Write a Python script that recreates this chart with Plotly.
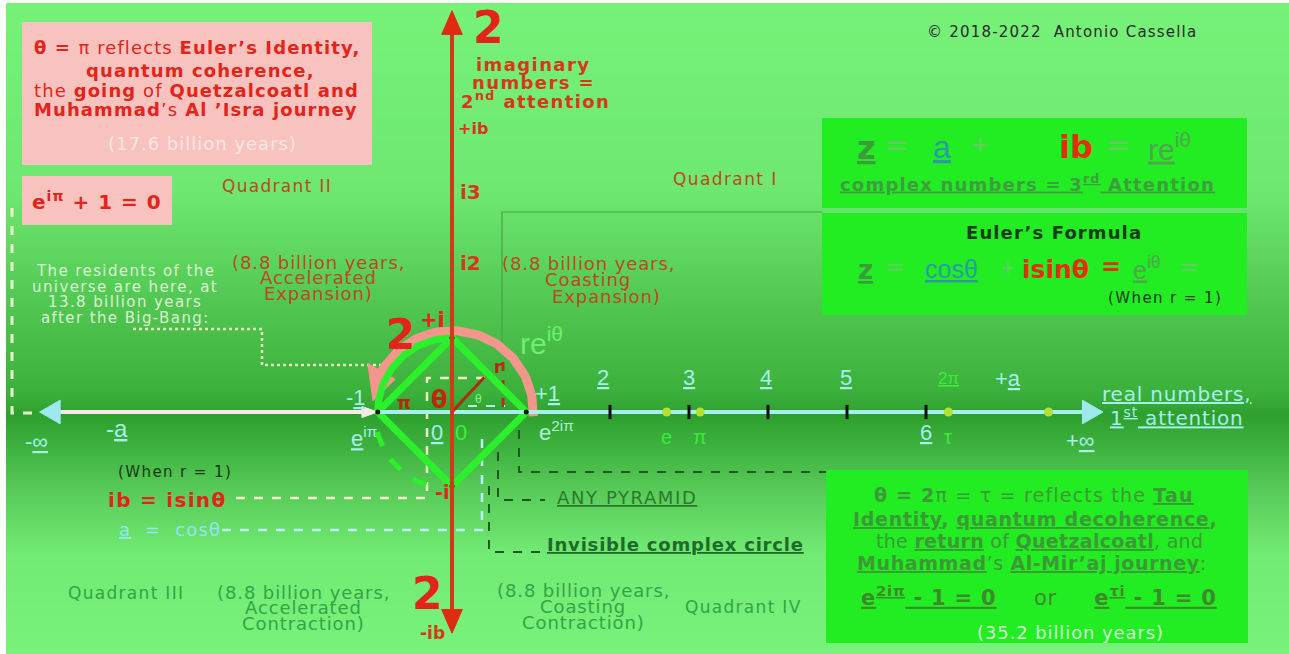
import numpy as np
import plotly.graph_objects as go

W, H = 1289, 654
U = 79.0            # pixels per unit of the complex plane
OX, OY = 452.0, 412.0   # pixel position of the origin
ML_, MT_ = 6, 3     # white page border of the reference

# ---------------- data ----------------
real_ticks = [2, 3, 4, 5, 6]
upper_tick_labels = ["2", "3", "4", "5"]
upper_tick_pos = [1.91, 3.0, 3.98, 4.99]
special_names = ["e", "π", "τ", ""]
special_values = [2.718, 3.1416, 6.2832, 7.55]
real_axis_ends = [-5.22, 8.24]
imag_axis_ends = [-2.8, 5.08]
imag_labels = ["i2", "i3"]
imag_label_pos = [1.88, 2.78]
unit_radius = 0.94
motion_radius = 1.03
motion_arc_deg = [-3, 150]
radius_vector_angle = 47.0
radius_vector_len = 0.6

# background gradient stops (pixel row -> colour)
bg_rows = [0, 190, 300, 395, 414, 440, 495, 555, 654]
bg_cols = ["#77F279", "#6EE870", "#52C852", "#3AAF3A", "#2E9F2E",
           "#3AAE3A", "#5ACD5A", "#72EB74", "#78F27A"]

REG = "Liberation Sans, Arial, sans-serif"
WIDE = "DejaVu Sans, Verdana, sans-serif"
BOLD = "DejaVu Sans, Verdana, sans-serif"
RED = "#E3241A"
AXRED = "#CF3A18"
BROWN = "#BD4A1C"
CYAN = "#A6EFEC"
GRN_TXT = "#34A444"
BOXG = "#22EC22"
PINK = "#F8C3BF"


def P(x, y):
    """pixel -> plane coordinates"""
    return (x - OX) / U, (OY - y) / U


xr = [P(ML_, 0)[0], P(W, 0)[0]]
yr = [P(0, H)[1], P(0, MT_)[1]]

fig = go.Figure()

# background gradient
rows = np.arange(-10, H + 11, 4)
zc = np.clip(rows, 0, H) / H
ys = (OY - rows) / U
fig.add_trace(go.Heatmap(
    x=[xr[0] - 0.5, xr[1] + 0.5], y=ys, z=np.column_stack([zc, zc]),
    colorscale=[[r / H, c] for r, c in zip(bg_rows, bg_cols)],
    zmin=0, zmax=1, zsmooth="best", showscale=False, hoverinfo="skip"))

shapes = []
ann = []


def rect(x0, y0, x1, y1, color):
    a, b = P(x0, y0)
    c, d = P(x1, y1)
    shapes.append(dict(type="rect", x0=a, y0=b, x1=c, y1=d, xref="x", yref="y",
                       fillcolor=color, line=dict(width=0), layer="above"))


def poly(pts, color, width, dash="solid"):
    xs, ys_ = zip(*[P(*p) for p in pts])
    fig.add_trace(go.Scatter(x=xs, y=ys_, mode="lines", hoverinfo="skip",
                             line=dict(color=color, width=width, dash=dash),
                             showlegend=False))


def T(x, y, text, size, color, fam=WIDE, bold=False, ls=0, xa="center", ya="middle"):
    X, Y = P(x, y)
    if bold:
        text = "<b>" + text + "</b>"
    if ls:
        text = "<span style='letter-spacing:%.2fpx'>%s</span>" % (ls, text)
    ann.append(dict(x=X, y=Y, xref="x", yref="y", text=text, showarrow=False,
                    font=dict(size=size, color=color, family=fam),
                    xanchor=xa, yanchor=ya))


def ML(x, y, lines, lh, size, color, fam=WIDE, bold=False, ls=0):
    for i, s in enumerate(lines):
        if isinstance(s, tuple):
            dx, s = s
        else:
            dx = 0
        T(x + dx, y + i * lh, s, size, color, fam, bold, ls)


# ------------- boxes -------------
rect(22, 22, 372, 165, PINK)
rect(22, 176, 172, 225, PINK)
rect(822, 118, 1247, 208, BOXG)
rect(822, 213, 1247, 315, BOXG)
rect(826, 470, 1248, 643, BOXG)

# ------------- guide lines -------------
poly([(12, 208), (12, 413), (40, 413)], "#EEF0C8", 3, "dash")
poly([(133, 329), (262, 329), (262, 365), (383, 365)], "#E8ECC0", 2.5, "dot")
poly([(502, 345), (502, 212), (822, 212)], "#46A246", 1.2)
poly([(519, 430), (519, 472), (826, 472)], "#1E5A1E", 2, "dash")
poly([(498, 452), (498, 500), (545, 500)], "#1E5A1E", 2, "dash")
poly([(489, 486), (489, 552), (541, 552)], "#1E5A1E", 2, "dash")
poly([(485, 378), (427, 378), (427, 498), (227, 498)], "#F2F2C8", 2.5, "dash")
poly([(222, 530), (482, 530), (482, 432)], "#B8F4F4", 2.5, "dash")
poly([(503, 362), (503, 409)], "#B83010", 3, "dash")
poly([(468, 406), (505, 406)], "#B8F4F4", 2, "dash")

# ------------- motion arc (pink) -------------
th = np.radians(np.linspace(motion_arc_deg[0], motion_arc_deg[1], 120))
fig.add_trace(go.Scatter(x=motion_radius * np.cos(th), y=motion_radius * np.sin(th),
                         mode="lines", line=dict(color="#F3968C", width=9),
                         hoverinfo="skip", showlegend=False))
tb = np.radians(motion_arc_deg[1])
tt = np.radians(motion_arc_deg[1] + 22)
base_in = (motion_radius - 0.2) * np.array([np.cos(tb), np.sin(tb)])
base_out = (motion_radius + 0.2) * np.array([np.cos(tb), np.sin(tb)])
tip = (motion_radius - 0.02) * np.array([np.cos(tt), np.sin(tt)])
fig.add_trace(go.Scatter(x=[base_in[0], tip[0], base_out[0], base_in[0]],
                         y=[base_in[1], tip[1], base_out[1], base_in[1]],
                         fill="toself", fillcolor="#F3968C", mode="lines",
                         line=dict(color="#F3968C", width=1), hoverinfo="skip",
                         showlegend=False))

# ------------- green complex circle / pyramid -------------
R = unit_radius
t2 = np.radians(np.linspace(90, 180, 60))
fig.add_trace(go.Scatter(x=R * np.cos(t2), y=R * np.sin(t2), mode="lines",
                         line=dict(color="#2DF02D", width=7), hoverinfo="skip",
                         showlegend=False))
t3 = np.radians(np.linspace(195, 255, 40))
fig.add_trace(go.Scatter(x=(R + 0.04) * np.cos(t3), y=(R + 0.04) * np.sin(t3), mode="lines",
                         line=dict(color="#2DF02D", width=5, dash="dash"), hoverinfo="skip",
                         showlegend=False))
fig.add_trace(go.Scatter(x=[-R, 0, R, 0, -R], y=[0, R, 0, -R, 0], mode="lines",
                         line=dict(color="#2DF02D", width=7), hoverinfo="skip",
                         showlegend=False))

# ------------- real axis -------------
L, Rr = real_axis_ends
fig.add_trace(go.Scatter(x=[L + 0.2, -R - 0.06], y=[0, 0], mode="lines",
                         line=dict(color="#F2ECE4", width=4), hoverinfo="skip", showlegend=False))
fig.add_trace(go.Scatter(x=[-R - 0.2, -R, -R - 0.2, -R - 0.2], y=[0.07, 0, -0.07, 0.07],
                         fill="toself", fillcolor="#F2ECE4", mode="lines",
                         line=dict(color="#F2ECE4", width=1), hoverinfo="skip", showlegend=False))
fig.add_trace(go.Scatter(x=[-R, Rr - 0.2], y=[0, 0], mode="lines",
                         line=dict(color=CYAN, width=4), hoverinfo="skip", showlegend=False))
for tipx, d in [(L, 1), (Rr, -1)]:
    fig.add_trace(go.Scatter(x=[tipx, tipx + d * 0.26, tipx + d * 0.26, tipx],
                             y=[0, 0.15, -0.15, 0], fill="toself", fillcolor="#9FE8F0",
                             mode="lines", line=dict(color="#9FE8F0", width=1),
                             hoverinfo="skip", showlegend=False))
# ticks
for t in real_ticks:
    fig.add_trace(go.Scatter(x=[t, t], y=[-0.09, 0.09], mode="lines",
                             line=dict(color="#101010", width=3), hoverinfo="skip", showlegend=False))
fig.add_trace(go.Scatter(x=special_values, y=[0] * len(special_values), mode="markers",
                         marker=dict(color="#B4E232", size=9), hoverinfo="skip", showlegend=False))
fig.add_trace(go.Scatter(x=[-R, 0, R, 0], y=[0, R, 0, -R], mode="markers",
                         marker=dict(color="#0A200A", size=5), hoverinfo="skip", showlegend=False))

# radius vector
va = np.radians(radius_vector_angle)
fig.add_trace(go.Scatter(x=[0, radius_vector_len * np.cos(va)], y=[0, radius_vector_len * np.sin(va)],
                         mode="lines", line=dict(color="#B02A10", width=3),
                         hoverinfo="skip", showlegend=False))

# ------------- imaginary axis -------------
B, Tp = imag_axis_ends
fig.add_trace(go.Scatter(x=[0, 0], y=[B + 0.25, Tp - 0.25], mode="lines",
                         line=dict(color=AXRED, width=4), hoverinfo="skip", showlegend=False))
for tipy, d in [(Tp, -1), (B, 1)]:
    fig.add_trace(go.Scatter(x=[0, 0.13, -0.13, 0], y=[tipy, tipy + d * 0.3, tipy + d * 0.3, tipy],
                             fill="toself", fillcolor="#E02A12", mode="lines",
                             line=dict(color="#E02A12", width=1), hoverinfo="skip", showlegend=False))

# ------------- texts -------------
# top-left pink box
T(197, 47, "<b>θ = </b>π reflects <b>Euler’s Identity,</b>", 18, RED, BOLD, ls=1.1)
T(200, 70, "quantum coherence,", 18, RED, BOLD, True, ls=1.1)
T(196, 90, "the <b>going</b> of <b>Quetzalcoatl and</b>", 18, RED, BOLD, ls=1.1)
T(196, 109, "<b>Muhammad</b>’s <b>Al ’Isra journey</b>", 18, RED, BOLD, ls=1.1)
T(202, 143, "(17.6 billion years)", 18, "#FBE6E4", WIDE, ls=1.0)
T(97, 201, "e<sup>iπ</sup> + 1 = 0", 20, RED, BOLD, True, ls=1.0)

T(277, 186, "Quadrant II", 17, BROWN, ls=1.3)
T(725, 179, "Quadrant I", 17, BROWN, ls=1.4)
T(126, 593, "Quadrant III", 17, GRN_TXT, ls=1.3)
T(743, 607, "Quadrant IV", 17, GRN_TXT, ls=1.3)

ML(318, 262, ["(8.8 billion years,", "Accelerated", "Expansion)"], 15.5, 18, BROWN, ls=0.9)
ML(588, 263, [(0, "(8.8 billion years,"), (0, "Coasting"), (18, "Expansion)")], 16.5, 18, BROWN, ls=0.9)
ML(303, 592, ["(8.8 billion years,", "Accelerated", "Contraction)"], 15.5, 18, GRN_TXT, ls=0.9)
ML(583, 590, ["(8.8 billion years,", "Coasting", "Contraction)"], 16, 18, GRN_TXT, ls=0.9)
ML(125, 271, ["The residents of the", "universe are here, at", "13.8 billion years",
              "after the Big-Bang:"], 15.5, 15, "#D9F2D2", ls=1.4)

# imaginary axis texts
T(488, 27, "2", 44, RED, BOLD, True)
ML(533, 64, ["imaginary", "numbers =", (2, "2<sup>nd</sup> attention")], 18, 18, "#D8381A", BOLD, True, ls=1.4)
T(473, 128, "+ib", 16, "#D8381A", BOLD, True)
for lab, pos in zip(imag_labels, imag_label_pos):
    X = P(470, 0)[0]
    ann.append(dict(x=X, y=pos, xref="x", yref="y", text="<b>" + lab + "</b>", showarrow=False,
                    font=dict(size=20, color="#D8381A", family=BOLD)))
T(427, 593, "2", 44, RED, BOLD, True)
T(432, 633, "-ib", 17, "#D8381A", BOLD, True)

# around the circle
T(400, 334, "2", 42, RED, BOLD, True)
T(432, 320, "+i", 21, RED, BOLD, True)
T(442, 492, "-i", 19, RED, BOLD, True)
T(541, 341, "re<sup>iθ</sup>", 30, "#6EF06E", REG)
T(498, 367, "r", 17, "#B02A10", BOLD, True)
T(404, 402, "π", 18, "#B02A10", BOLD, True)
T(439, 400, "θ", 24, "#C0280E", BOLD, True)
T(478, 399, "θ", 12, "#8EF08E", REG)

# real axis texts
T(356, 397, "-<u>1</u>", 22, CYAN, REG)
T(547, 393, "+<u>1</u>", 22, CYAN, REG)
T(364, 437, "<u>e</u><sup>iπ</sup>", 22, CYAN, REG)
T(437, 432, "<u>0</u>", 22, CYAN, REG)
T(461, 432, "0", 22, "#3CEF3C", REG)
T(556, 431, "e<sup>2iπ</sup>", 22, "#A8F2D8", REG)
for lab, pos in zip(upper_tick_labels, upper_tick_pos):
    ann.append(dict(x=pos, y=P(0, 377)[1], xref="x", yref="y", text="<u>" + lab + "</u>",
                    showarrow=False, font=dict(size=22, color=CYAN, family=REG)))
ann.append(dict(x=real_ticks[-1], y=P(0, 432)[1], xref="x", yref="y", text="<u>6</u>",
                showarrow=False, font=dict(size=22, color=CYAN, family=REG)))
for nm, v in zip(special_names, special_values):
    if nm:
        ann.append(dict(x=v, y=P(0, 437)[1], xref="x", yref="y", text=nm, showarrow=False,
                        font=dict(size=20, color="#3CEA3C", family=REG)))
ann.append(dict(x=special_values[2], y=P(0, 378)[1], xref="x", yref="y", text="<u>2π</u>",
                showarrow=False, font=dict(size=17, color="#3CEA3C", family=REG)))
T(1008, 378, "+<u>a</u>", 22, CYAN, REG)
T(117, 428, "-<u>a</u>", 24, CYAN, REG)
T(36, 441, "-<u>∞</u>", 22, CYAN, REG)
T(1080, 440, "+<u>∞</u>", 22, CYAN, REG)
T(1177, 394, "<u>real numbers,</u>", 20, CYAN, ls=0.8)
T(1177, 417, "<u>1<sup>st</sup> attention</u>", 20, CYAN, ls=0.8)

# left-bottom formulas
T(175, 472, "(When r = 1)", 15, "#163816", ls=1.4)
T(167, 500, "ib = isinθ", 20, RED, BOLD, True, ls=1.3)
T(170, 529, "<u>a</u>  =  cosθ", 18, "#94E6F0", ls=1.2)

T(627, 497, "<u>ANY PYRAMID</u>", 18, "#2A7A2A", ls=1.6)
T(675, 544, "<u>Invisible complex circle</u>", 18, "#1E6A2A", BOLD, True, ls=0.8)

# top-right green boxes
T(866, 148, "<u>z</u>", 32, "#3C9C3C", BOLD, True)
T(896, 144, "=", 30, "#62CC62", BOLD)
T(942, 147, "<u>a</u>", 32, "#2A9CA0", REG)
T(980, 144, "+", 30, "#62CC62", REG)
T(1076, 147, "ib", 32, "#E2300F", BOLD, True)
T(1117, 144, "=", 30, "#62CC62", BOLD)
T(1169, 147, "<u>re</u><sup>iθ</sup>", 30, "#4FA64F", REG)
T(1027, 183, "<u>complex numbers = 3<sup>rd</sup> Attention</u>", 18, "#3E9E3E", BOLD, True, ls=1.2)

T(1054, 232, "Euler’s Formula", 18, "#1A3A1A", BOLD, True, ls=1.1)
T(865, 270, "<u>z</u>", 26, "#3C9C3C", BOLD, True)
T(895, 267, "=", 24, "#62CC62", BOLD)
T(951, 269, "<u>cosθ</u>", 25, "#2A9CA0", REG)
T(1007, 267, "+", 25, "#62CC62", REG)
T(1055, 269, "isinθ", 25, "#E2300F", BOLD, True)
T(1111, 267, "=", 24, "#E2300F", BOLD, True)
T(1147, 268, "<u>e</u><sup>iθ</sup>", 25, "#4FA64F", REG)
T(1189, 267, "=", 24, "#62CC62", BOLD)
T(1165, 298, "(When r = 1)", 15, "#1A3A1A", ls=1.4)

# bottom-right box
BG = "#3C9A36"
T(1034, 495, "<b>θ = 2</b>π = τ = reflects the <b><u>Tau</u></b>", 19, BG, BOLD, ls=1.2)
T(1035, 519, "<b><u>Identity</u>, <u>quantum decoherence</u>,</b>", 19, BG, BOLD, ls=0.7)
T(1039, 541, "the <b><u>return</u></b> of <b><u>Quetzalcoatl</u></b>, and", 19, BG, BOLD, ls=0.3)
T(1032, 563, "<b><u>Muhammad</u></b>’s <b><u>Al-Mir’aj journey</u></b>:", 19, BG, BOLD, ls=0.6)
T(1039, 596, "<b><u>e<sup>2iπ</sup> - 1 = 0</u></b>     or     <b><u>e<sup>τi</sup> - 1 = 0</u></b>", 21, "#3E8A2A", BOLD, ls=0.8)
T(1070, 632, "(35.2 billion years)", 18, "#CFF8CF", ls=0.9)

T(1062, 32, "© 2018-2022  Antonio Cassella", 15, "#2A2A2A", ls=1.2)

fig.update_layout(
    width=W, height=H, margin=dict(l=ML_, r=0, t=MT_, b=0),
    paper_bgcolor="#FFFFFF", plot_bgcolor="#5ACD5A",
    xaxis=dict(range=xr, visible=False, fixedrange=True),
    yaxis=dict(range=yr, visible=False, fixedrange=True),
    shapes=shapes, annotations=ann, showlegend=False,
)
fig.write_html("out.html", config={"displayModeBar": False},
               post_script="document.body.style.margin='0';document.body.style.overflow='hidden';")
